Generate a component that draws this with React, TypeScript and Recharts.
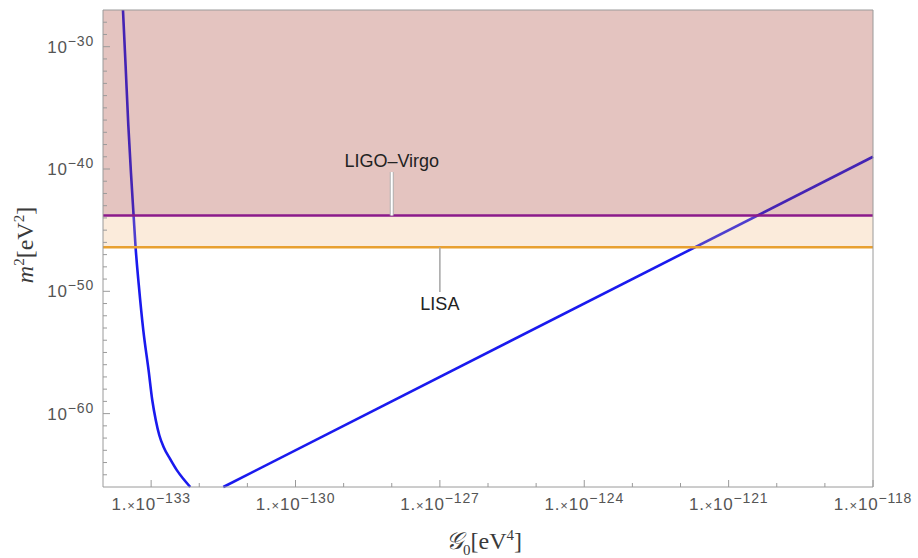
import { LineChart, Line, XAxis, YAxis, ReferenceArea, ReferenceLine } from "recharts"

// exponents: x = log10(G0 / eV^4), y = log10(m^2 / eV^2)
const leftX = [
  -133.585, -133.531, -133.474, -133.416, -133.364, -133.323, -133.256, -133.163, -133.053, -132.976, -132.903,
  -132.83, -132.741, -132.602, -132.463, -132.332, -132.187,
]
const leftY = [
  -27.0, -31.5, -36.41, -40.5, -43.81, -46.39, -49.5, -53.18, -56.45, -58.91, -60.54, -61.77, -62.73, -63.73, -64.64,
  -65.33, -66.0,
]
const rightX = [-131.5, -118]
const rightY = [-66, -39]

const ligoBound = -43.8
const lisaBound = -46.4
const yTop = -27
const yBottom = -66
const xLeft = -134
const xRight = -118

const xTicks = [-133, -132, -131, -130, -129, -128, -127, -126, -125, -124, -123, -122, -121, -120, -119, -118]
const xMajor = [-133, -130, -127, -124, -121, -118]
const yTicks = [
  -65, -64, -63, -62, -61, -60, -59, -58, -57, -56, -55, -54, -53, -52, -51, -50, -49, -48, -47, -46,
  -45, -44, -43, -42, -41, -40, -39, -38, -37, -36, -35, -34, -33, -32, -31, -30, -29, -28,
]
const yMajor = [-60, -50, -40, -30]

const ligoLabel = "LIGO–Virgo"
const lisaLabel = "LISA"

const leftData = leftX.map((x, i) => ({ x, y: leftY[i] }))
const rightData = rightX.map((x, i) => ({ x, y: rightY[i] }))

const frame = "#9a9a9a"
const tickText = "#555555"
const font = "'Liberation Sans', Arial, sans-serif"

const minus = (v: number) => "−" + Math.abs(v)

function BottomTick({ x, y, payload }: any) {
  const v = payload.value
  const major = xMajor.includes(v)
  return (
    <g>
      <line x1={x} x2={x} y1={y} y2={y - (major ? 7 : 4)} stroke={frame} />
      {major && (
        <text
          x={x}
          y={y + 23}
          textAnchor="middle"
          fill={tickText}
          fontSize={17}
          letterSpacing={0.8}
          fontFamily={font}
        >
          <tspan>1.</tspan>
          <tspan fontSize={13}>×</tspan>
          <tspan>10</tspan>
          <tspan dy={-7} fontSize={14}>{minus(v)}</tspan>
        </text>
      )}
    </g>
  )
}

function TopTick({ x, y, payload }: any) {
  const major = xMajor.includes(payload.value)
  return <line x1={x} x2={x} y1={y} y2={y + (major ? 7 : 4)} stroke={frame} />
}

function LeftTick({ x, y, payload }: any) {
  const v = payload.value
  const major = yMajor.includes(v)
  return (
    <g>
      <line x1={x} x2={x + (major ? 7 : 4)} y1={y} y2={y} stroke={frame} />
      {major && (
        <text
          x={x - 9}
          y={y + 6}
          textAnchor="end"
          fill={tickText}
          fontSize={17}
          letterSpacing={0.8}
          fontFamily={font}
        >
          <tspan>10</tspan>
          <tspan dy={-7} fontSize={14}>{minus(v)}</tspan>
        </text>
      )}
    </g>
  )
}

function RightTick({ x, y, payload }: any) {
  const major = yMajor.includes(payload.value)
  return <line x1={x} x2={x - (major ? 7 : 4)} y1={y} y2={y} stroke={frame} />
}

export default function App() {
  return (
    <div style={{ position: "absolute", left: 0, top: 0, width: 918, height: 558, background: "#fff" }}>
      <LineChart width={918} height={558} margin={{ top: 0, right: 0, bottom: 0, left: 0 }}>
        <XAxis
          xAxisId="b"
          type="number"
          dataKey="x"
          domain={[xLeft, xRight]}
          ticks={xTicks}
          interval={0}
          height={71}
          tickSize={0}
          tickMargin={0}
          tickLine={false}
          axisLine={{ stroke: frame }}
          tick={<BottomTick />}
        />
        <XAxis
          xAxisId="t"
          orientation="top"
          type="number"
          dataKey="x"
          domain={[xLeft, xRight]}
          ticks={xTicks}
          interval={0}
          height={10}
          tickSize={0}
          tickMargin={0}
          tickLine={false}
          axisLine={{ stroke: frame }}
          tick={<TopTick />}
        />
        <YAxis
          yAxisId="l"
          type="number"
          domain={[yBottom, yTop]}
          ticks={yTicks}
          interval={0}
          width={103}
          tickSize={0}
          tickMargin={0}
          tickLine={false}
          axisLine={{ stroke: frame }}
          tick={<LeftTick />}
        />
        <YAxis
          yAxisId="r"
          orientation="right"
          type="number"
          domain={[yBottom, yTop]}
          ticks={yTicks}
          interval={0}
          width={45}
          tickSize={0}
          tickMargin={0}
          tickLine={false}
          axisLine={{ stroke: frame }}
          tick={<RightTick />}
        />
        <Line
          xAxisId="b"
          yAxisId="l"
          data={leftData}
          dataKey="y"
          type="monotone"
          stroke="#1a1aee"
          strokeWidth={2.6}
          dot={false}
          isAnimationActive={false}
        />
        <Line
          xAxisId="b"
          yAxisId="l"
          data={rightData}
          dataKey="y"
          type="linear"
          stroke="#1a1aee"
          strokeWidth={2.6}
          dot={false}
          isAnimationActive={false}
        />
        <ReferenceArea
          xAxisId="b"
          yAxisId="l"
          y1={ligoBound}
          y2={yTop}
          fill="#a53a30"
          fillOpacity={0.3}
          stroke="none"
          zIndex={450}
        />
        <ReferenceArea
          xAxisId="b"
          yAxisId="l"
          y1={lisaBound}
          y2={ligoBound}
          fill="#f0b070"
          fillOpacity={0.25}
          stroke="none"
          zIndex={450}
        />
        <ReferenceLine xAxisId="b" yAxisId="l" y={ligoBound} stroke="#8b1a8b" strokeWidth={2.6} zIndex={460} />
        <ReferenceLine xAxisId="b" yAxisId="l" y={lisaBound} stroke="#e8a030" strokeWidth={2.6} zIndex={460} />
        <ReferenceLine
          xAxisId="b"
          yAxisId="l"
          segment={[
            { x: -128, y: ligoBound },
            { x: -128, y: -40.25 },
          ]}
          stroke="#b0b0b0"
          strokeWidth={4}
          zIndex={470}
        />
        <ReferenceLine
          xAxisId="b"
          yAxisId="l"
          segment={[
            { x: -128, y: ligoBound },
            { x: -128, y: -40.25 },
          ]}
          stroke="#ffffff"
          strokeWidth={2}
          zIndex={471}
          label={{ value: ligoLabel, position: "top", fill: "#222", fontSize: 18, fontFamily: font }}
        />
        <ReferenceLine
          xAxisId="b"
          yAxisId="l"
          segment={[
            { x: -127, y: lisaBound },
            { x: -127, y: -50.05 },
          ]}
          stroke="#aaaaaa"
          strokeWidth={1.6}
          zIndex={470}
          label={{ value: lisaLabel, position: "bottom", fill: "#222", fontSize: 18, fontFamily: font }}
        />
      </LineChart>
      <div
        style={{
          position: "absolute",
          left: 25,
          top: 245,
          transform: "translate(-50%, -50%) rotate(-90deg)",
          whiteSpace: "nowrap",
          fontFamily: "'Liberation Serif', 'Times New Roman', serif",
          fontSize: 24,
          color: "#3a3a3a",
        }}
      >
        <i>m</i>
        <sup style={{ fontSize: 15 }}>2</sup>[eV<sup style={{ fontSize: 15 }}>2</sup>]
      </div>
      <div
        style={{
          position: "absolute",
          left: 484,
          top: 543,
          transform: "translate(-50%, -50%)",
          whiteSpace: "nowrap",
          fontFamily: "'Liberation Serif', 'Times New Roman', serif",
          fontSize: 24,
          color: "#3a3a3a",
        }}
      >
        <span style={{ fontFamily: "'DejaVu Serif', serif", fontStyle: "italic" }}>𝒢</span>
        <sub style={{ fontSize: 15 }}>0</sub>[eV<sup style={{ fontSize: 15 }}>4</sup>]
      </div>
    </div>
  )
}
